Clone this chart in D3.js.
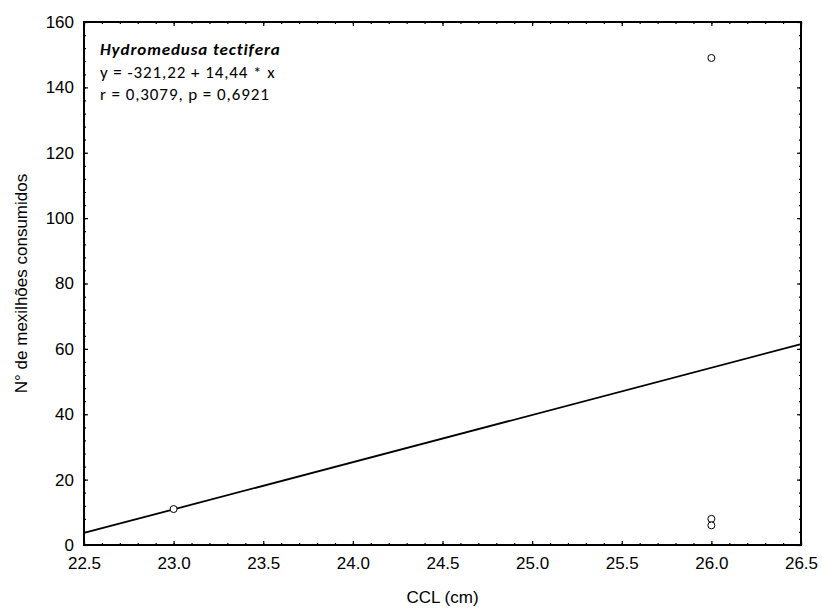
<!DOCTYPE html>
<html>
<head>
<meta charset="utf-8">
<script src="https://cdn.jsdelivr.net/npm/d3@7"></script>
<style>
  body { margin: 0; background: #fff; }
  text { font-family: "Liberation Sans", Arial, sans-serif; }
  .note { font-family: Carlito, Lato, "Open Sans", sans-serif; font-size: 17px; letter-spacing: 0.9px; }
</style>
</head>
<body>
<div id="chart"></div>
<script>
var svgWidth = 822;
var svgHeight = 610;

var margin = { top: 22, right: 21, bottom: 65, left: 84 };
var width = svgWidth - margin.left - margin.right;
var height = svgHeight - margin.top - margin.bottom;

// data
var ccl = [23.0, 26.0, 26.0, 26.0];
var mussels = [11, 149, 8, 6];
var intercept = -321.22;
var slope = 14.44;
var xTicks = [22.5, 23.0, 23.5, 24.0, 24.5, 25.0, 25.5, 26.0, 26.5];
var yTicks = [0, 20, 40, 60, 80, 100, 120, 140, 160];
var noteLines = ["y = -321,22 + 14,44 * x", "r = 0,3079, p = 0,6921"];

var svg = d3.select("#chart")
  .append("svg")
  .attr("width", svgWidth)
  .attr("height", svgHeight);

var chartGroup = svg.append("g")
  .attr("transform", `translate(${margin.left}, ${margin.top})`);

var xScale = d3.scaleLinear().domain([22.5, 26.5]).range([0, width]);
var yScale = d3.scaleLinear().domain([0, 160]).range([height, 0]);

// minor ticks
var xMinor = d3.range(22.5, 26.5001, 0.1);
var yMinor = d3.range(0, 160.001, 4);

function drawAxis(axisGen, transform) {
  var g = chartGroup.append("g").attr("transform", transform);
  g.call(axisGen);
  g.select(".domain").remove();
  g.selectAll("text").attr("font-size", 17).attr("fill", "#000");
  g.selectAll("line").attr("stroke", "#000").attr("stroke-width", 1.2);
  return g;
}

// bottom/top axes with inward ticks
drawAxis(d3.axisBottom(xScale).tickValues(xTicks).tickFormat(d3.format(".1f"))
  .tickSize(-4).tickPadding(12), `translate(0, ${height})`);
drawAxis(d3.axisBottom(xScale).tickValues(xMinor).tickFormat("").tickSize(-2), `translate(0, ${height})`);
drawAxis(d3.axisTop(xScale).tickValues(xTicks).tickFormat("").tickSize(-4), "translate(0,0)");
drawAxis(d3.axisTop(xScale).tickValues(xMinor).tickFormat("").tickSize(-2), "translate(0,0)");

// left/right axes
drawAxis(d3.axisLeft(yScale).tickValues(yTicks).tickFormat(d3.format("d"))
  .tickSize(-4).tickPadding(10), "translate(0,0)");
drawAxis(d3.axisLeft(yScale).tickValues(yMinor).tickFormat("").tickSize(-2), "translate(0,0)");
drawAxis(d3.axisRight(yScale).tickValues(yTicks).tickFormat("").tickSize(-4), `translate(${width},0)`);
drawAxis(d3.axisRight(yScale).tickValues(yMinor).tickFormat("").tickSize(-2), `translate(${width},0)`);

// frame
chartGroup.append("rect")
  .attr("width", width)
  .attr("height", height)
  .attr("fill", "none")
  .attr("stroke", "#000")
  .attr("stroke-width", 2);

// regression line
var x0 = xScale.domain()[0], x1 = xScale.domain()[1];
chartGroup.append("line")
  .attr("x1", xScale(x0))
  .attr("y1", yScale(intercept + slope * x0))
  .attr("x2", xScale(x1))
  .attr("y2", yScale(intercept + slope * x1))
  .attr("stroke", "#000")
  .attr("stroke-width", 1.8);

// points
chartGroup.append("g").selectAll("circle")
  .data(ccl)
  .enter()
  .append("circle")
  .attr("cx", d => xScale(d))
  .attr("cy", (d, i) => yScale(mussels[i]))
  .attr("r", 3.5)
  .attr("fill", "#fff")
  .attr("stroke", "#000")
  .attr("stroke-width", 1);

// annotation
var note = chartGroup.append("text").attr("class", "note").attr("x", 16).attr("y", 33);
note.append("tspan").attr("font-style", "italic").attr("font-weight", "bold").text("Hydromedusa tectifera");
noteLines.forEach(function(t) {
  note.append("tspan").attr("x", 16).attr("dy", 22.5).text(t);
});

// axis labels
chartGroup.append("text")
  .attr("transform", "rotate(-90)")
  .attr("x", -height / 2)
  .attr("y", -margin.left + 27)
  .attr("text-anchor", "middle")
  .attr("font-size", 17)
  .text("N° de mexilhões consumidos");

chartGroup.append("text")
  .attr("x", width / 2)
  .attr("y", height + 58)
  .attr("text-anchor", "middle")
  .attr("font-size", 17)
  .text("CCL (cm)");
</script>
</body>
</html>
